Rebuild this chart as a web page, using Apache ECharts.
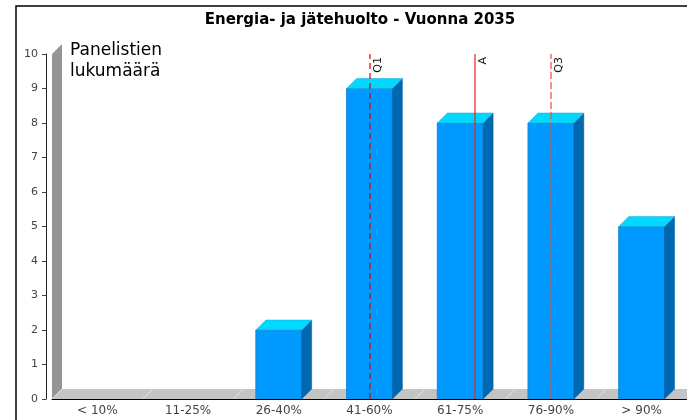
<!doctype html>
<html>
<head>
<meta charset="utf-8">
<title>Energia- ja jätehuolto - Vuonna 2035</title>
<script src="https://cdn.jsdelivr.net/npm/echarts@6/dist/echarts.min.js"></script>
<style>
  html, body { margin: 0; padding: 0; background: #fff; }
  #main { width: 687px; height: 420px; }
</style>
</head>
<body>
<div id="main"></div>
<script>
// data
var categories = ['< 10%', '11-25%', '26-40%', '41-60%', '61-75%', '76-90%', '> 90%'];
var counts = [0, 0, 2, 9, 8, 8, 5];
var markerNames = ['Q1', 'A', 'Q3'];
var markerPos = [3, 4.16, 5];   // position in category index units

var DEPTH = 10;
var FONT = '"DejaVu Sans", sans-serif';
var markerStyle = [
    { stroke: '#e00000', lineDash: [6, 4] },
    { stroke: '#ec2020', lineDash: null },
    { stroke: '#f04848', lineDash: [7, 3] }
];

function renderFloor(params, api) {
    var a = api.coord([-0.5, 0]);
    var b = api.coord([categories.length - 0.5, 0]);
    var t = api.coord([-0.5, 10]);
    var kids = [
        { type: 'polygon', shape: { points: [[a[0], a[1]], [a[0] + DEPTH, a[1] - DEPTH], [b[0] + DEPTH, b[1] - DEPTH], [b[0], b[1]]] },
          style: { fill: '#c4c4c4' } },
        { type: 'polygon', shape: { points: [[a[0], a[1]], [t[0], t[1]], [t[0] + DEPTH, t[1] - DEPTH], [a[0] + DEPTH, a[1] - DEPTH]] },
          style: { fill: '#959595' } }
    ];
    for (var i = 0; i <= categories.length; i++) {
        var p = api.coord([i - 0.5, 0]);
        kids.push({ type: 'line', shape: { x1: p[0], y1: p[1], x2: p[0] + DEPTH, y2: p[1] - DEPTH },
                    style: { stroke: '#e4e4e4', lineWidth: 1 } });
    }
    return { type: 'group', children: kids };
}

function renderBar(params, api) {
    var v = api.value(1);
    if (!v) return null;
    var base = api.coord([api.value(0), 0]);
    var top = api.coord([api.value(0), v]);
    var w = api.size([1, 0])[0] * 0.505;
    var x0 = base[0] - w / 2, x1 = base[0] + w / 2, y0 = base[1], y1 = top[1];
    return {
        type: 'group',
        children: [
            { type: 'rect', shape: { x: x0, y: y1, width: w, height: y0 - y1 },
              style: { fill: '#0099ff', stroke: '#1a86cc', lineWidth: 1 } },
            { type: 'polygon', shape: { points: [[x1, y0], [x1, y1], [x1 + DEPTH, y1 - DEPTH], [x1 + DEPTH, y0 - DEPTH]] },
              style: { fill: '#0068b0', stroke: '#0a62a0', lineWidth: 0.5 } },
            { type: 'polygon', shape: { points: [[x0, y1], [x1, y1], [x1 + DEPTH, y1 - DEPTH], [x0 + DEPTH, y1 - DEPTH]] },
              style: { fill: '#00d8ff', stroke: '#20a8d8', lineWidth: 0.5 } }
        ]
    };
}

function renderMarker(params, api) {
    var k = api.value(1);
    var lo = api.coord([api.value(0), 0]);
    var hi = api.coord([api.value(0), 10]);
    var x = Math.round(lo[0]);
    var st = markerStyle[k];
    return {
        type: 'group',
        children: [
            { type: 'line', shape: { x1: x, y1: lo[1], x2: x, y2: hi[1] },
              style: { stroke: st.stroke, lineWidth: 1.2, lineDash: st.lineDash } },
            { type: 'text', x: x + 3, y: hi[1] + 3, rotation: Math.PI / 2,
              style: { text: markerNames[k], fill: '#111', font: '11px ' + FONT, align: 'right', verticalAlign: 'top' } }
        ]
    };
}

var chart = echarts.init(document.getElementById('main'));
chart.setOption({
    animation: false,
    backgroundColor: '#fff',
    grid: { left: 52, right: 0, top: 54, bottom: 21 },
    xAxis: [{
        type: 'category',
        data: categories,
        boundaryGap: true,
        axisLine: { onZero: false, lineStyle: { color: '#000', width: 1 } },
        axisTick: { show: false },
        axisLabel: { color: '#444', fontFamily: FONT, fontSize: 12, margin: 6 },
        z: 10
    }, {
        type: 'value', min: -0.5, max: categories.length - 0.5, show: false
    }],
    yAxis: {
        type: 'value', min: 0, max: 10, interval: 1,
        offset: 6,
        axisLine: { show: true, onZero: false, lineStyle: { color: '#222', width: 1 } },
        axisTick: { show: true, length: 4, lineStyle: { color: '#444' } },
        axisLabel: { color: '#444', fontFamily: FONT, fontSize: 11, margin: 8 },
        splitLine: { show: false }
    },
    graphic: [
        { type: 'rect', shape: { x: 16, y: 6, width: 720, height: 440 },
          style: { fill: null, stroke: '#000', lineWidth: 1.5 }, z: 100 },
        { type: 'text', x: 360, y: 20,
          style: { text: 'Energia- ja jätehuolto - Vuonna 2035', font: 'bold 15px ' + FONT, fill: '#000', align: 'center', verticalAlign: 'middle' } },
        { type: 'text', x: 70, y: 40,
          style: { text: 'Panelistien\nlukumäärä', font: '17px ' + FONT, lineHeight: 21, fill: '#000', align: 'left', verticalAlign: 'top' }, z: 100 }
    ],
    series: [{
        type: 'custom', xAxisIndex: 1, renderItem: renderFloor, data: [[0, 0]], z: 1, silent: true, clip: false
    }, {
        type: 'custom', xAxisIndex: 1, renderItem: renderBar,
        data: counts.map(function (c, i) { return [i, c]; }), z: 2, clip: false
    }, {
        type: 'custom', xAxisIndex: 1, renderItem: renderMarker,
        data: markerPos.map(function (p, k) { return [p, k]; }), z: 3, clip: false
    }]
});
</script>
</body>
</html>
